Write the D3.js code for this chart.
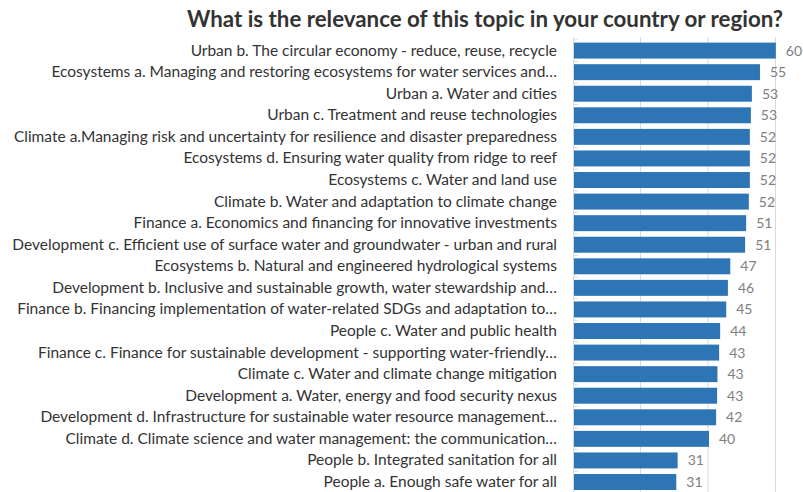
<!DOCTYPE html>
<html>
<head>
<meta charset="utf-8">
<script src="https://cdn.jsdelivr.net/npm/d3@7"></script>
<style>
  body { margin: 0; background: #fff; }
  svg { display: block; }
</style>
</head>
<body>
<div id="chart-container"></div>
<script>
// categories, top to bottom
const categories = [
  "Urban b. The circular economy - reduce, reuse, recycle",
  "Ecosystems a. Managing and restoring ecosystems for water services and…",
  "Urban a. Water and cities",
  "Urban c. Treatment and reuse technologies",
  "Climate a.Managing risk and uncertainty for resilience and disaster preparedness",
  "Ecosystems d. Ensuring water quality from ridge to reef",
  "Ecosystems c. Water and land use",
  "Climate b. Water and adaptation to climate change",
  "Finance a. Economics and financing for innovative investments",
  "Development c. Efficient use of surface water and groundwater - urban and rural",
  "Ecosystems b. Natural and engineered hydrological systems",
  "Development b. Inclusive and sustainable growth, water stewardship and…",
  "Finance b. Financing implementation of water-related SDGs and adaptation to…",
  "People c. Water and public health",
  "Finance c. Finance for sustainable development - supporting water-friendly…",
  "Climate c. Water and climate change mitigation",
  "Development a.  Water, energy and food security nexus",
  "Development d. Infrastructure for sustainable water resource management…",
  "Climate d. Climate science and water management: the communication…",
  "People b. Integrated sanitation for all",
  "People a. Enough safe water for all"
];
const values = [60.1, 55.4, 53.0, 52.7, 52.4, 52.4, 52.4, 52.1, 51.3, 51.0,
  46.6, 45.9, 45.4, 43.6, 43.3, 42.8, 42.7, 42.4, 40.3, 31.0, 30.6];
const xTicks = [0, 20, 40, 60];
const title = "What is the relevance of this topic in your country or region?";

const width = 803;
const height = 492;
const margin = { top: 37, right: 27.5, bottom: -3.6, left: 573 };
const font = "Lato, 'Open Sans', sans-serif";

const data = categories.map((c, i) => ({ name: c, value: values[i] }));

const svg = d3.select("#chart-container")
  .append("svg")
  .attr("width", width)
  .attr("height", height);

const x = d3.scaleLinear()
  .domain([0, 60])
  .range([margin.left, width - margin.right]);

const y = d3.scaleBand()
  .domain(categories)
  .range([margin.top, height - margin.bottom])
  .padding(0.26);

// gridlines
svg.append("g")
  .selectAll("line")
  .data(xTicks.slice(1))
  .join("line")
  .attr("x1", d => x(d)).attr("x2", d => x(d))
  .attr("y1", margin.top).attr("y2", height)
  .attr("stroke", "#d9d9d9")
  .attr("stroke-width", 1);

// category axis
const yAxis = d3.axisLeft(y).tickSize(0).tickPadding(16);
const ga = svg.append("g")
  .attr("transform", `translate(${margin.left},0)`)
  .call(yAxis);
ga.select(".domain").attr("stroke", "#d9d9d9").attr("d", `M0.5,${margin.top}V${height}`);
ga.selectAll("text")
  .attr("fill", "#333")
  .style("font-family", font)
  .style("font-size", "15.5px");

// little tick marks on band boundaries
svg.append("g")
  .selectAll("line")
  .data(categories)
  .join("line")
  .attr("x1", margin.left).attr("x2", margin.left + 5)
  .attr("y1", d => y(d) - y.step() * y.padding() / 2)
  .attr("y2", d => y(d) - y.step() * y.padding() / 2)
  .attr("stroke", "#d9d9d9");

// bars
svg.append("g")
  .selectAll("rect")
  .data(data)
  .join("rect")
  .attr("x", x(0) + 1)
  .attr("y", d => y(d.name))
  .attr("width", d => x(d.value) - x(0) - 1)
  .attr("height", y.bandwidth())
  .attr("fill", "#2e75b6");

// value labels
svg.append("g")
  .selectAll("text")
  .data(data)
  .join("text")
  .attr("x", d => x(d.value) + 10)
  .attr("y", d => y(d.name) + y.bandwidth() / 2)
  .attr("dy", "0.36em")
  .attr("fill", "#808080")
  .style("font-family", font)
  .style("font-size", "14px")
  .text(d => d3.format(".0f")(d.value));

// title
svg.append("text")
  .attr("x", 485)
  .attr("y", 27)
  .attr("text-anchor", "middle")
  .attr("fill", "#333")
  .style("font-family", font)
  .style("font-weight", "bold")
  .style("font-size", "22.3px")
  .text(title);
</script>
</body>
</html>
